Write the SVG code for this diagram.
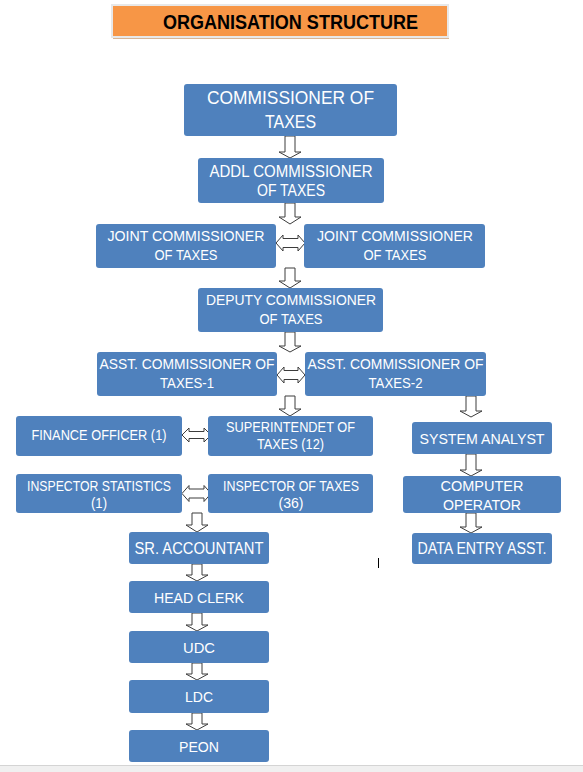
<svg xmlns="http://www.w3.org/2000/svg" width="583" height="772" viewBox="0 0 583 772">
<style>
.box{fill:#4F81BD;}
.t{font-family:"Liberation Sans",Arial,sans-serif;fill:#ffffff;text-anchor:middle;}
.arr{fill:#ffffff;stroke:#3c3c3c;stroke-width:1;stroke-linejoin:miter;}
</style>
<rect x="0" y="0" width="583" height="772" fill="#ffffff"/>
<g id="title">
<rect x="113" y="7" width="336" height="32" fill="#d8b596"/>
<rect x="112" y="5" width="336" height="32" fill="#F79646" stroke="#e8e8e8" stroke-width="2"/>
<text x="290.5" y="29" font-family="'Liberation Sans',Arial,sans-serif" font-weight="bold" font-size="21" fill="#000000" text-anchor="middle" textLength="255" lengthAdjust="spacingAndGlyphs">ORGANISATION STRUCTURE</text>
</g>
<g id="connectors">
<path class="arr" d="M285,136 H295 V152 H301 L290,158 L279,152 H285 Z"/>
<path class="arr" d="M285,203 H295 V217 H301 L290,224 L279,217 H285 Z"/>
<path class="arr" d="M285,268 H295 V281 H301 L290,288 L279,281 H285 Z"/>
<path class="arr" d="M285,332 H295 V346 H301 L290,352 L279,346 H285 Z"/>
<path class="arr" d="M285,396 H295 V409 H301 L290,416 L279,409 H285 Z"/>
<path class="arr" d="M466,396 H476 V411 H482 L471,417 L460,411 H466 Z"/>
<path class="arr" d="M466,454 H476 V470 H482 L471,476 L460,470 H466 Z"/>
<path class="arr" d="M466,513 H476 V527 H482 L471,533 L460,527 H466 Z"/>
<path class="arr" d="M192,513 H202 V525 H208 L197,532 L186,525 H192 Z"/>
<path class="arr" d="M192,564 H202 V575 H208 L197,581 L186,575 H192 Z"/>
<path class="arr" d="M192,613 H202 V625 H208 L197,631 L186,625 H192 Z"/>
<path class="arr" d="M192,663 H202 V674 H208 L197,680 L186,674 H192 Z"/>
<path class="arr" d="M192,713 H202 V724 H208 L197,730 L186,724 H192 Z"/>
<path class="arr" d="M276,243 L283,235 V238.5 H298 V235 L305,243 L298,251 V247.5 H283 V251 Z"/>
<path class="arr" d="M277,375 L284,367 V370.5 H298 V367 L305,375 L298,383 V379.5 H284 V383 Z"/>
<path class="arr" d="M182,435 L189,428 V431.5 H204 V428 L211,435 L204,442 V438.5 H189 V442 Z"/>
<path class="arr" d="M182,493.5 L189,485.5 V489 H204 V485.5 L211,493.5 L204,501.5 V498 H189 V501.5 Z"/>
</g>
<g id="n-commissioner">
<rect class="box" x="184" y="84" width="213" height="52" rx="3"/>
<text class="t" x="290.5" y="104" font-size="17.5" textLength="167" lengthAdjust="spacingAndGlyphs">COMMISSIONER OF</text>
<text class="t" x="290.5" y="128" font-size="17.5" textLength="51" lengthAdjust="spacingAndGlyphs">TAXES</text>
</g>
<g id="n-addl">
<rect class="box" x="198" y="158" width="186" height="45" rx="3"/>
<text class="t" x="291" y="177" font-size="16" textLength="163" lengthAdjust="spacingAndGlyphs">ADDL COMMISSIONER</text>
<text class="t" x="291" y="196" font-size="16" textLength="68" lengthAdjust="spacingAndGlyphs">OF TAXES</text>
</g>
<g id="n-joint1">
<rect class="box" x="96" y="224" width="180" height="44" rx="3"/>
<text class="t" x="186" y="241" font-size="15.4" textLength="157" lengthAdjust="spacingAndGlyphs">JOINT COMMISSIONER</text>
<text class="t" x="186" y="260" font-size="15.4" textLength="63" lengthAdjust="spacingAndGlyphs">OF TAXES</text>
</g>
<g id="n-joint2">
<rect class="box" x="304" y="224" width="181" height="44" rx="3"/>
<text class="t" x="395" y="241" font-size="15.4" textLength="156" lengthAdjust="spacingAndGlyphs">JOINT COMMISSIONER</text>
<text class="t" x="395" y="260" font-size="15.4" textLength="63" lengthAdjust="spacingAndGlyphs">OF TAXES</text>
</g>
<g id="n-deputy">
<rect class="box" x="198" y="288" width="185" height="44" rx="3"/>
<text class="t" x="291" y="305" font-size="15.4" textLength="170" lengthAdjust="spacingAndGlyphs">DEPUTY COMMISSIONER</text>
<text class="t" x="291" y="324" font-size="15.4" textLength="63" lengthAdjust="spacingAndGlyphs">OF TAXES</text>
</g>
<g id="n-asst1">
<rect class="box" x="97" y="352" width="180" height="44" rx="3"/>
<text class="t" x="187" y="369" font-size="15.5" textLength="175" lengthAdjust="spacingAndGlyphs">ASST. COMMISSIONER OF</text>
<text class="t" x="187" y="388" font-size="15.5" textLength="54" lengthAdjust="spacingAndGlyphs">TAXES-1</text>
</g>
<g id="n-asst2">
<rect class="box" x="305" y="352" width="181" height="44" rx="3"/>
<text class="t" x="395.5" y="369" font-size="15.5" textLength="176" lengthAdjust="spacingAndGlyphs">ASST. COMMISSIONER OF</text>
<text class="t" x="395.5" y="388" font-size="15.5" textLength="54" lengthAdjust="spacingAndGlyphs">TAXES-2</text>
</g>
<g id="n-finance">
<rect class="box" x="16" y="416" width="166" height="40" rx="3"/>
<text class="t" x="99" y="439.5" font-size="14" textLength="135" lengthAdjust="spacingAndGlyphs">FINANCE OFFICER (1)</text>
</g>
<g id="n-superintendent">
<rect class="box" x="208" y="416" width="165" height="40" rx="3"/>
<text class="t" x="290.5" y="431.5" font-size="15" textLength="129" lengthAdjust="spacingAndGlyphs">SUPERINTENDET OF</text>
<text class="t" x="290.5" y="449" font-size="15" textLength="67" lengthAdjust="spacingAndGlyphs">TAXES (12)</text>
</g>
<g id="n-inspstat">
<rect class="box" x="16" y="474" width="166" height="39" rx="3"/>
<text class="t" x="99" y="490.5" font-size="15" textLength="144" lengthAdjust="spacingAndGlyphs">INSPECTOR STATISTICS</text>
<text class="t" x="99" y="507.5" font-size="15" textLength="16" lengthAdjust="spacingAndGlyphs">(1)</text>
</g>
<g id="n-insptax">
<rect class="box" x="208" y="474" width="165" height="39" rx="3"/>
<text class="t" x="291" y="490.5" font-size="15" textLength="136" lengthAdjust="spacingAndGlyphs">INSPECTOR OF TAXES</text>
<text class="t" x="291" y="507.5" font-size="15" textLength="25" lengthAdjust="spacingAndGlyphs">(36)</text>
</g>
<g id="n-sr">
<rect class="box" x="129" y="532" width="140" height="32" rx="3"/>
<text class="t" x="199" y="554" font-size="16" textLength="129" lengthAdjust="spacingAndGlyphs">SR. ACCOUNTANT</text>
</g>
<g id="n-headclerk">
<rect class="box" x="129" y="581" width="140" height="32" rx="3"/>
<text class="t" x="199" y="603" font-size="15.5" textLength="90" lengthAdjust="spacingAndGlyphs">HEAD CLERK</text>
</g>
<g id="n-udc">
<rect class="box" x="129" y="631" width="140" height="32" rx="3"/>
<text class="t" x="199" y="653" font-size="15.5" textLength="32" lengthAdjust="spacingAndGlyphs">UDC</text>
</g>
<g id="n-ldc">
<rect class="box" x="129" y="680" width="140" height="33" rx="3"/>
<text class="t" x="199" y="702" font-size="15.5" textLength="28" lengthAdjust="spacingAndGlyphs">LDC</text>
</g>
<g id="n-peon">
<rect class="box" x="129" y="730" width="140" height="32" rx="3"/>
<text class="t" x="199" y="752" font-size="15.5" textLength="40" lengthAdjust="spacingAndGlyphs">PEON</text>
</g>
<g id="n-sysanalyst">
<rect class="box" x="412" y="422" width="140" height="32" rx="3"/>
<text class="t" x="482" y="444" font-size="15.5" textLength="125" lengthAdjust="spacingAndGlyphs">SYSTEM ANALYST</text>
</g>
<g id="n-compop">
<rect class="box" x="403" y="476" width="158" height="37" rx="3"/>
<text class="t" x="482" y="490.5" font-size="15.5" textLength="83" lengthAdjust="spacingAndGlyphs">COMPUTER</text>
<text class="t" x="482" y="510" font-size="15.5" textLength="78" lengthAdjust="spacingAndGlyphs">OPERATOR</text>
</g>
<g id="n-dataentry">
<rect class="box" x="412" y="533" width="140" height="31" rx="3"/>
<text class="t" x="482" y="554" font-size="16" textLength="129" lengthAdjust="spacingAndGlyphs">DATA ENTRY ASST.</text>
</g>
<line x1="378.5" y1="558" x2="378.5" y2="568" stroke="#000000" stroke-width="1"/>
<rect x="0" y="765" width="583" height="7" fill="#f0f0f0"/>
<line x1="0" y1="765.5" x2="583" y2="765.5" stroke="#d4d4d4" stroke-width="1"/>
</svg>
